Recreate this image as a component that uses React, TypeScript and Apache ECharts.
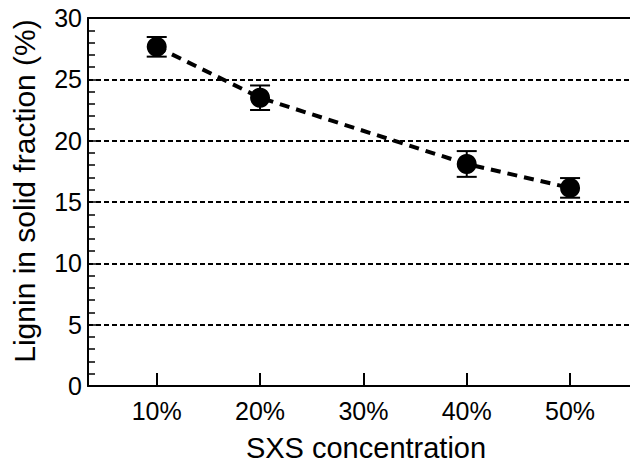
import React, { useEffect, useRef } from "react";
import * as echarts from "echarts";

const concentrations = [10, 20, 40, 50];
const lignin = [27.65, 23.5, 18.1, 16.15];
const errors = [0.8, 1.0, 1.05, 0.8];
const xTicks = [10, 20, 30, 40, 50];
const yTicks = [0, 5, 10, 15, 20, 25, 30];

const FONT = "Liberation Sans, Arial, sans-serif";

export default function App() {
  const ref = useRef<HTMLDivElement>(null);
  useEffect(() => {
    document.body.style.margin = "0";
    if (!ref.current) return;
    const chart = echarts.init(ref.current, undefined, { renderer: "svg" });
    const xMin = 3.35;
    const xMax = 55.8;
    chart.setOption({
      animation: false,
      backgroundColor: "#fff",
      grid: { left: 88, top: 18, right: 0, bottom: 78 },
      xAxis: [
        {
          type: "value",
          min: xMin,
          max: xMax,
          position: "bottom",
          axisLine: { show: true, lineStyle: { color: "#000", width: 2 } },
          axisTick: {
            show: true,
            inside: true,
            length: 13,
            lineStyle: { color: "#000", width: 2 },
            customValues: xTicks,
          },
          axisLabel: {
            customValues: xTicks,
            formatter: (v: number) => `${v}%`,
            color: "#000",
            fontSize: 25,
            fontFamily: FONT,
            margin: 12,
          },
          splitLine: { show: false },
        },
        {
          type: "value",
          min: xMin,
          max: xMax,
          position: "top",
          axisLine: { show: true, onZero: false, lineStyle: { color: "#000", width: 2 } },
          axisTick: { show: false },
          axisLabel: { show: false },
          splitLine: { show: false },
        },
      ],
      yAxis: {
        type: "value",
        min: yTicks[0],
        max: yTicks[yTicks.length - 1],
        interval: 5,
        axisLine: { show: true, lineStyle: { color: "#000", width: 2 } },
        axisTick: { show: true, inside: true, length: 8, lineStyle: { color: "#000", width: 1.5 } },
        minorTick: { show: true, splitNumber: 5, length: 7, lineStyle: { color: "#000", width: 1.5 } },
        axisLabel: { color: "#000", fontSize: 25, fontFamily: FONT, margin: 6 },
        splitLine: { show: true, lineStyle: { color: "#000", width: 2, type: [5, 3] } },
      },
      graphic: [
        {
          type: "text",
          x: 366,
          y: 448,
          style: {
            text: "SXS concentration",
            fill: "#000",
            font: `29px ${FONT}`,
            align: "center",
            verticalAlign: "middle",
          },
        },
        {
          type: "text",
          x: 24,
          y: 191,
          rotation: Math.PI / 2,
          style: {
            text: "Lignin in solid fraction (%)",
            fill: "#000",
            font: `30px ${FONT}`,
            align: "center",
            verticalAlign: "middle",
          },
        },
      ],
      series: [
        {
          type: "line",
          data: concentrations.map((c, i) => [c, lignin[i]]),
          symbol: "circle",
          symbolSize: 20,
          itemStyle: { color: "#000" },
          lineStyle: { color: "#000", width: 4, type: [10, 7] },
          z: 3,
        },
        {
          type: "custom",
          data: concentrations.map((c, i) => [c, lignin[i] - errors[i], lignin[i] + errors[i]]),
          renderItem: (params: any, api: any) => {
            const x = api.value(0);
            const lo = api.coord([x, api.value(1)]);
            const hi = api.coord([x, api.value(2)]);
            const hw = 10;
            const style = { stroke: "#000", lineWidth: 2 };
            return {
              type: "group",
              children: [
                { type: "line", shape: { x1: lo[0], y1: lo[1], x2: hi[0], y2: hi[1] }, style },
                { type: "line", shape: { x1: lo[0] - hw, y1: lo[1], x2: lo[0] + hw, y2: lo[1] }, style },
                { type: "line", shape: { x1: hi[0] - hw, y1: hi[1], x2: hi[0] + hw, y2: hi[1] }, style },
              ],
            };
          },
          z: 4,
        },
      ],
    });
    return () => chart.dispose();
  }, []);
  return <div ref={ref} style={{ width: 630, height: 464 }} />;
}
